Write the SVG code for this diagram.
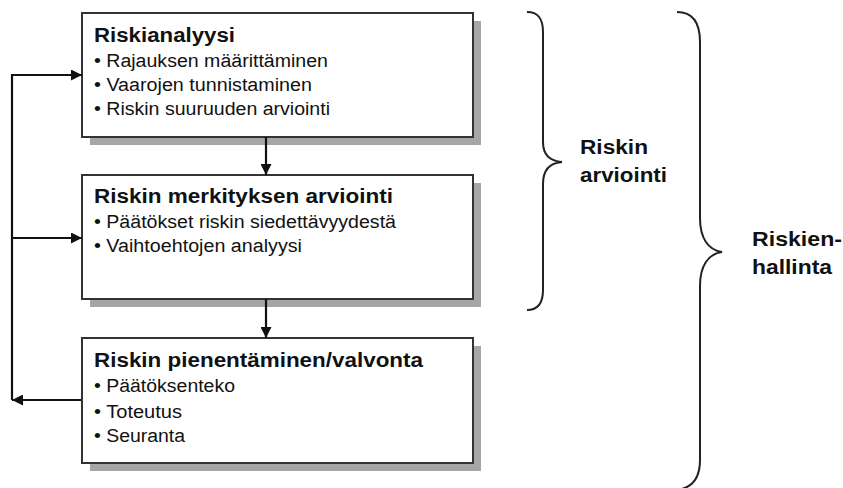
<svg xmlns="http://www.w3.org/2000/svg" width="843" height="488" viewBox="0 0 843 488">
<defs>
<marker id="ah" markerUnits="userSpaceOnUse" markerWidth="11" markerHeight="11" viewBox="0 0 11 11" refX="11" refY="5.5" orient="auto">
<path d="M0,0 L11,5.5 L0,11 Z" fill="#111"/>
</marker>
<style>
.shadow{fill:#a6a6a6;}
.box{fill:#fff;stroke:#333;stroke-width:2;}
.title{font-family:"Liberation Sans",Arial,sans-serif;font-weight:bold;font-size:20px;fill:#111;}
.item{font-family:"Liberation Sans",Arial,sans-serif;font-size:18px;fill:#111;}
.side{font-family:"Liberation Sans",Arial,sans-serif;font-weight:bold;font-size:20px;fill:#111;}
.conn{fill:none;stroke:#111;stroke-width:2.2;}
.brace{fill:none;stroke:#222;stroke-width:2;}
</style>
</defs>
<rect width="843" height="488" fill="#fff"/>

<g id="node-riskianalyysi">
<rect class="shadow" x="90" y="21" width="391" height="124"/>
<rect class="box" x="82" y="13" width="391" height="124"/>
<text class="title" x="94" y="42" textLength="141" lengthAdjust="spacingAndGlyphs">Riskianalyysi</text>
<text class="item" x="94" y="67" textLength="234" lengthAdjust="spacingAndGlyphs">• Rajauksen määrittäminen</text>
<text class="item" x="94" y="91" textLength="218" lengthAdjust="spacingAndGlyphs">• Vaarojen tunnistaminen</text>
<text class="item" x="94" y="115" textLength="236" lengthAdjust="spacingAndGlyphs">• Riskin suuruuden arviointi</text>
</g>

<g id="node-merkitys">
<rect class="shadow" x="90" y="183" width="391" height="124"/>
<rect class="box" x="82" y="175" width="391" height="124"/>
<text class="title" x="94" y="203" textLength="299" lengthAdjust="spacingAndGlyphs">Riskin merkityksen arviointi</text>
<text class="item" x="94" y="228" textLength="302" lengthAdjust="spacingAndGlyphs">• Päätökset riskin siedettävyydestä</text>
<text class="item" x="94" y="252" textLength="208" lengthAdjust="spacingAndGlyphs">• Vaihtoehtojen analyysi</text>
</g>

<g id="node-pienentaminen">
<rect class="shadow" x="90" y="346" width="391" height="125"/>
<rect class="box" x="82" y="338" width="391" height="125"/>
<text class="title" x="94" y="367" textLength="329" lengthAdjust="spacingAndGlyphs">Riskin pienentäminen/valvonta</text>
<text class="item" x="94" y="392" textLength="141" lengthAdjust="spacingAndGlyphs">• Päätöksenteko</text>
<text class="item" x="94" y="418" textLength="88" lengthAdjust="spacingAndGlyphs">• Toteutus</text>
<text class="item" x="94" y="442" textLength="91" lengthAdjust="spacingAndGlyphs">• Seuranta</text>
</g>

<g id="connectors">
<path class="conn" d="M266,137 V175" marker-end="url(#ah)"/>
<path class="conn" d="M266,299 V338" marker-end="url(#ah)"/>
<path class="conn" d="M81,400 H12" marker-end="url(#ah)"/>
<path class="conn" d="M12,400 V75 H82" marker-end="url(#ah)"/>
<path class="conn" d="M12,238 H82" marker-end="url(#ah)"/>
</g>

<g id="brace-arviointi">
<path class="brace" d="M527,12 C538,12 543,18 543,32 V142 C543,154 549,161 562,162 C549,163 543,170 543,184 V290 C543,303 538,310 527,310"/>
<text class="side" x="580" y="154" textLength="68" lengthAdjust="spacingAndGlyphs">Riskin</text>
<text class="side" x="580" y="182" textLength="87" lengthAdjust="spacingAndGlyphs">arviointi</text>
</g>

<g id="brace-hallinta">
<path class="brace" d="M677,12 C692,12 700,22 700,42 V218 C700,238 708,250 722,252 C708,254 700,266 700,286 V460 C700,478 692,488 677,490"/>
<text class="side" x="752" y="246" textLength="90" lengthAdjust="spacingAndGlyphs">Riskien-</text>
<text class="side" x="752" y="274" textLength="80" lengthAdjust="spacingAndGlyphs">hallinta</text>
</g>
</svg>
